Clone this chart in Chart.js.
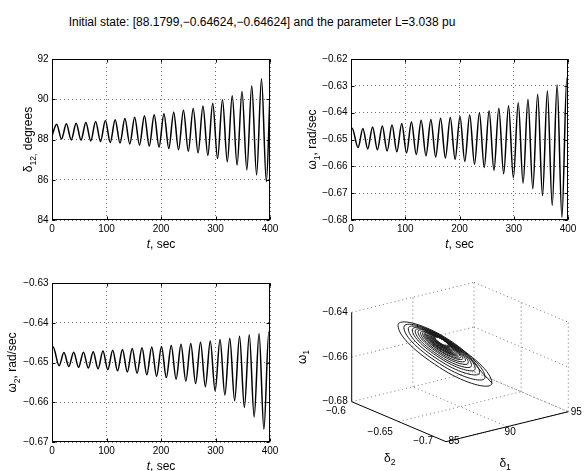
<!DOCTYPE html>
<html>
<head>
<meta charset="utf-8">
<script src="https://cdn.jsdelivr.net/npm/chart.js"></script>
<style>
  body { margin: 0; background: #fff; width: 588px; height: 471px; position: relative; overflow: hidden;
         font-family: "Liberation Sans", Arial, sans-serif; }
  #title { position: absolute; left: 0; top: 15px; width: 524px; text-align: center; font-size: 12px; line-height: 14px; color: #000; }
  .cell { position: absolute; }
  canvas { display: block; }
</style>
</head>
<body>
<div id="title">Initial state: [88.1799,−0.64624,−0.64624] and the parameter L=3.038 pu</div>
<div class="cell" style="left:0;top:45px"><canvas id="c1" width="290" height="215"></canvas></div>
<div class="cell" style="left:290px;top:45px"><canvas id="c2" width="298" height="215"></canvas></div>
<div class="cell" style="left:0;top:268px"><canvas id="c3" width="290" height="203"></canvas></div>
<div class="cell" style="left:290px;top:268px"><canvas id="c4" width="298" height="203"></canvas></div>
<script>
// ===== DATA =====
const timeTicks = [0, 100, 200, 300, 400];
const deltaTicks = [84, 86, 88, 90, 92];
const omega1Ticks = [-0.68, -0.67, -0.66, -0.65, -0.64, -0.63, -0.62];
const omega2Ticks = [-0.67, -0.66, -0.65, -0.64, -0.63];

// delta12: start, then alternating peaks / troughs, then end value
const tDelta = [0, 8.5, 17.5, 26.4, 35.3, 44.3, 53.2, 62.2, 71.1, 80.1, 89.0, 98.0, 106.9, 115.9, 124.8,
  133.8, 142.7, 151.7, 160.6, 169.6, 178.5, 187.5, 196.4, 205.4, 214.3, 223.3, 232.2, 241.2, 250.1,
  259.1, 268.0, 277.0, 285.9, 294.9, 303.8, 312.8, 321.7, 330.7, 339.6, 348.6, 357.5, 366.5, 375.4,
  384.4, 393.3, 400];
const delta12 = [88.18, 88.76, 88.02, 88.78, 87.98, 88.81, 87.97, 88.85, 87.93, 88.90, 87.90, 88.95,
  87.85, 88.98, 87.82, 89.04, 87.78, 89.10, 87.72, 89.18, 87.67, 89.23, 87.62, 89.28, 87.55, 89.36,
  87.49, 89.45, 87.42, 89.54, 87.33, 89.67, 87.21, 89.80, 87.05, 89.97, 86.89, 90.17, 86.73, 90.39,
  86.49, 90.67, 86.24, 91.02, 85.90, 90.30];

// omega1 / omega2: start, then alternating peaks / troughs, then end value
const tOmega = [0, 2, 13.0, 21.9, 30.8, 39.8, 48.7, 57.7, 66.6, 75.6, 84.5, 93.5, 102.4, 111.4, 120.3,
  129.3, 138.2, 147.2, 156.1, 165.1, 174.0, 183.0, 191.9, 200.9, 209.8, 218.8, 227.7, 236.7, 245.6,
  254.6, 263.5, 272.5, 281.4, 290.4, 299.3, 308.3, 317.2, 326.2, 335.1, 344.1, 353.0, 362.0, 370.9,
  379.9, 388.8, 397.8, 400];
const omega1 = [-0.6462, -0.6458, -0.6530, -0.6459, -0.6535, -0.6453, -0.6538, -0.6450, -0.6543,
  -0.6446, -0.6546, -0.6440, -0.6550, -0.6435, -0.6556, -0.6428, -0.6561, -0.6425, -0.6565, -0.6421,
  -0.6569, -0.6418, -0.6574, -0.6414, -0.6582, -0.6409, -0.6592, -0.6400, -0.6604, -0.6393, -0.6615,
  -0.6384, -0.6628, -0.6374, -0.6643, -0.6363, -0.6663, -0.6350, -0.6684, -0.6331, -0.6709, -0.6318,
  -0.6746, -0.6296, -0.6790, -0.6272, -0.6276];
const omega2 = [-0.6462, -0.6461, -0.6508, -0.6475, -0.6510, -0.6474, -0.6512, -0.6474, -0.6514,
  -0.6473, -0.6516, -0.6471, -0.6518, -0.6469, -0.6521, -0.6467, -0.6524, -0.6465, -0.6527, -0.6463,
  -0.6531, -0.6461, -0.6535, -0.6460, -0.6538, -0.6457, -0.6542, -0.6454, -0.6547, -0.6452, -0.6553,
  -0.6449, -0.6561, -0.6446, -0.6571, -0.6442, -0.6582, -0.6439, -0.6596, -0.6434, -0.6613, -0.6430,
  -0.6637, -0.6427, -0.6668, -0.6423, -0.6426];

// 3-D phase portrait: axis ticks and spiral (four points per loop)
const d1Ticks3 = [85, 90, 95];
const d2Ticks3 = [-0.7, -0.65, -0.6];
const w1Ticks3 = [-0.68, -0.66, -0.64];
const spD1 = [
  88.79, 88.50, 88.21, 88.50,  88.81, 88.50, 88.19, 88.50,  88.84, 88.51, 88.18, 88.51,
  88.87, 88.51, 88.15, 88.51,  88.91, 88.52, 88.13, 88.52,  88.95, 88.52, 88.09, 88.52,
  88.98, 88.53, 88.08, 88.53,  89.02, 88.53, 88.04, 88.53,  89.08, 88.54, 88.00, 88.54,
  89.14, 88.55, 87.96, 88.55,  89.18, 88.55, 87.92, 88.55,  89.24, 88.56, 87.88, 88.56,
  89.30, 88.57, 87.84, 88.57,  89.37, 88.58, 87.79, 88.58,  89.45, 88.59, 87.73, 88.59,
  89.57, 88.61, 87.65, 88.61,  89.69, 88.62, 87.55, 88.62,  89.84, 88.64, 87.44, 88.64,
  90.01, 88.67, 87.33, 88.67,  90.21, 88.69, 87.17, 88.69,  90.46, 88.73, 87.00, 88.73,
  90.77, 88.77, 86.77, 88.77,  90.80];
const spD2 = [
  -0.6535, -0.65, -0.6466, -0.65,  -0.6537, -0.65, -0.6463, -0.65,  -0.6539, -0.65, -0.6461, -0.65,
  -0.6543, -0.65, -0.6457, -0.65,  -0.6546, -0.65, -0.6454, -0.65,  -0.6551, -0.65, -0.6449, -0.65,
  -0.6554, -0.65, -0.6446, -0.65,  -0.6559, -0.65, -0.6442, -0.65,  -0.6564, -0.65, -0.6436, -0.65,
  -0.6570, -0.65, -0.6430, -0.65,  -0.6575, -0.65, -0.6425, -0.65,  -0.6580, -0.65, -0.6420, -0.65,
  -0.6587, -0.65, -0.6413, -0.65,  -0.6594, -0.65, -0.6406, -0.65,  -0.6603, -0.65, -0.6397, -0.65,
  -0.6614, -0.65, -0.6386, -0.65,  -0.6628, -0.65, -0.6372, -0.65,  -0.6643, -0.65, -0.6357, -0.65,
  -0.6660, -0.65, -0.6340, -0.65,  -0.6681, -0.65, -0.6319, -0.65,  -0.6706, -0.65, -0.6294, -0.65,
  -0.6738, -0.65, -0.6262, -0.65,  -0.6740];
const spW1 = [
  -0.6504, -0.6499, -0.6472, -0.6477,  -0.6507, -0.6501, -0.6471, -0.6477,  -0.6508, -0.6501, -0.6471, -0.6477,
  -0.6510, -0.6504, -0.6470, -0.6477,  -0.6513, -0.6506, -0.6469, -0.6476,  -0.6517, -0.6509, -0.6469, -0.6477,
  -0.6520, -0.6511, -0.6468, -0.6477,  -0.6523, -0.6514, -0.6467, -0.6477,  -0.6528, -0.6517, -0.6467, -0.6477,
  -0.6532, -0.6521, -0.6466, -0.6477,  -0.6536, -0.6524, -0.6465, -0.6476,  -0.6540, -0.6527, -0.6464, -0.6477,
  -0.6544, -0.6530, -0.6462, -0.6476,  -0.6551, -0.6536, -0.6461, -0.6476,  -0.6557, -0.6540, -0.6459, -0.6476,
  -0.6566, -0.6548, -0.6458, -0.6476,  -0.6576, -0.6555, -0.6454, -0.6475,  -0.6588, -0.6565, -0.6452, -0.6475,
  -0.6601, -0.6575, -0.6449, -0.6475,  -0.6617, -0.6588, -0.6445, -0.6474,  -0.6637, -0.6604, -0.6441, -0.6474,
  -0.6661, -0.6623, -0.6435, -0.6473,  -0.6663];

// ===== HELPERS =====
const FONT = '"Liberation Sans", Arial, sans-serif';
const GRID = '#6e6e6e';

function fmt(v, dec) {
  return (v < -1e-9 ? '\u2212' : '') + Math.abs(v).toFixed(dec);
}

// text with subscripts / italics, centred on (x, y)
function richText(ctx, parts, x, y, size, rotated) {
  ctx.save();
  ctx.translate(x, y);
  if (rotated) ctx.rotate(-Math.PI / 2);
  const fontOf = p => (p.it ? 'italic ' : '') + (p.sub ? size * 0.72 : size) + 'px ' + FONT;
  let w = 0;
  parts.forEach(p => { ctx.font = fontOf(p); w += ctx.measureText(p.t).width; });
  let cx = -w / 2;
  ctx.fillStyle = '#000';
  ctx.textAlign = 'left';
  ctx.textBaseline = 'alphabetic';
  parts.forEach(p => {
    ctx.font = fontOf(p);
    ctx.fillText(p.t, cx, size * 0.36 + (p.sub ? size * 0.28 : 0));
    cx += ctx.measureText(p.t).width;
  });
  ctx.restore();
}

// box, inward tick marks and axis titles, matlab style
function framePlugin(ylabel, ylabelX) {
  return {
    id: 'frame',
    afterDraw(chart) {
      const { ctx, chartArea: a, scales } = chart;
      const L = Math.round(a.left) + 0.5, R = Math.round(a.right) - 0.5;
      const T = Math.round(a.top) + 0.5, B = Math.round(a.bottom) - 0.5;
      ctx.save();
      ctx.strokeStyle = '#000';
      ctx.lineWidth = 1;
      ctx.beginPath();
      scales.x.ticks.forEach(t => {
        const px = Math.round(scales.x.getPixelForValue(t.value)) + 0.5;
        ctx.moveTo(px, B); ctx.lineTo(px, B - 3);
        ctx.moveTo(px, T); ctx.lineTo(px, T + 3);
      });
      scales.y.ticks.forEach(t => {
        const py = Math.round(scales.y.getPixelForValue(t.value)) + 0.5;
        ctx.moveTo(L, py); ctx.lineTo(L + 3, py);
        ctx.moveTo(R, py); ctx.lineTo(R - 3, py);
      });
      ctx.stroke();
      ctx.strokeRect(L, T, R - L, B - T);
      ctx.restore();
      richText(ctx, ylabel, ylabelX, (a.top + a.bottom) / 2, 12, true);
      richText(ctx, [{ t: 't', it: true }, { t: ', sec' }], (a.left + a.right) / 2, a.bottom + 24, 12, false);
    }
  };
}

function seriesChart(id, t, v, yTicks, dec, box, ylabel, ylabelX) {
  const points = t.map((x, i) => ({ x, y: v[i] }));
  return new Chart(document.getElementById(id), {
    type: 'line',
    data: {
      datasets: [{
        data: points,
        borderColor: '#000',
        borderWidth: 1.5,
        pointRadius: 0,
        fill: false,
        cubicInterpolationMode: 'monotone'
      }]
    },
    options: {
      responsive: false,
      animation: false,
      devicePixelRatio: 1,
      layout: { padding: { top: box.top, right: box.right, left: 0, bottom: 0 } },
      plugins: { legend: { display: false }, tooltip: { enabled: false } },
      scales: {
        x: {
          type: 'linear', min: 0, max: 400,
          afterBuildTicks: s => { s.ticks = timeTicks.map(value => ({ value })); },
          afterFit: s => { s.height = box.xh; },
          grid: { color: GRID, lineWidth: 1, drawTicks: false },
          border: { display: false, dash: [1, 3] },
          ticks: { font: { family: FONT, size: 10 }, color: '#000', padding: 3, maxRotation: 0 }
        },
        y: {
          type: 'linear', min: yTicks[0], max: yTicks[yTicks.length - 1],
          afterBuildTicks: s => { s.ticks = yTicks.map(value => ({ value })); },
          afterFit: s => { s.width = box.yw; },
          grid: { color: GRID, lineWidth: 1, drawTicks: false },
          border: { display: false, dash: [1, 3] },
          ticks: { font: { family: FONT, size: 10 }, color: '#000', padding: 3.5, callback: val => fmt(val, dec) }
        }
      }
    },
    plugins: [framePlugin(ylabel, ylabelX)]
  });
}

// ===== TIME SERIES =====
seriesChart('c1', tDelta, delta12, deltaTicks, 0,
  { top: 14, right: 20, yw: 52, xh: 40 },
  [{ t: '\u03b4' }, { t: '12,', sub: true }, { t: ' degrees' }], 28);
seriesChart('c2', tOmega, omega1, omega1Ticks, 2,
  { top: 14, right: 20, yw: 61, xh: 40 },
  [{ t: '\u03c9' }, { t: '1', sub: true }, { t: ', rad/sec' }], 22);
seriesChart('c3', tOmega, omega2, omega2Ticks, 2,
  { top: 15, right: 20, yw: 52, xh: 29 },
  [{ t: '\u03c9' }, { t: '2', sub: true }, { t: ', rad/sec' }], 12);

// ===== 3-D VIEW =====
// view of the box (page pixels): front-bottom corner and one edge vector per axis
const lim = { d1: [85, 95], d2: [-0.7, -0.6], w1: [-0.68, -0.64] };
const VIEW = { ox: 446, oy: 441.7, u: [122.3, -30], v: [-94.3, -40], w: [0, -89.4] };
function proj(d1, d2, w1) {
  const u = (d1 - lim.d1[0]) / (lim.d1[1] - lim.d1[0]);
  const v = (d2 - lim.d2[0]) / (lim.d2[1] - lim.d2[0]);
  const w = (w1 - lim.w1[0]) / (lim.w1[1] - lim.w1[0]);
  return { x: VIEW.ox + u * VIEW.u[0] + v * VIEW.v[0] + w * VIEW.w[0],
           y: VIEW.oy + u * VIEW.u[1] + v * VIEW.v[1] + w * VIEW.w[1] };
}

const seg = (a, b, dotted) => ({
  data: [proj(...a), proj(...b)],
  showLine: true, pointRadius: 0, borderWidth: 1,
  borderColor: dotted ? '#777' : '#000',
  borderDash: dotted ? [1, 3] : []
});

const [d1a, d1b] = lim.d1, [d2a, d2b] = lim.d2, [w1a, w1b] = lim.w1;
const lines3 = [];
// solid axes
lines3.push(seg([d1a, d2b, w1a], [d1a, d2b, w1b], false));
lines3.push(seg([d1a, d2b, w1a], [d1a, d2a, w1a], false));
lines3.push(seg([d1a, d2a, w1a], [d1b, d2a, w1a], false));
// dotted grid on back walls and floor
w1Ticks3.forEach(w => {
  lines3.push(seg([d1a, d2b, w], [d1b, d2b, w], true));
  lines3.push(seg([d1b, d2b, w], [d1b, d2a, w], true));
});
d1Ticks3.slice(1).forEach(d => {
  lines3.push(seg([d, d2b, w1a], [d, d2b, w1b], true));
  lines3.push(seg([d, d2a, w1a], [d, d2b, w1a], true));
});
d2Ticks3.slice(0, -1).forEach(d => {
  lines3.push(seg([d1b, d, w1a], [d1b, d, w1b], true));
  lines3.push(seg([d1a, d, w1a], [d1b, d, w1a], true));
});

const spiral = {
  data: spD1.map((d, i) => proj(d, spD2[i], spW1[i])),
  showLine: true, pointRadius: 0, borderWidth: 1, borderColor: '#1a1a1a', tension: 0.55, fill: false
};

const labels3 = {
  id: 'labels3',
  afterDraw(chart) {
    const { ctx, scales: { x, y } } = chart;
    const at = p => ({ x: x.getPixelForValue(p.x), y: y.getPixelForValue(p.y) });
    ctx.save();
    ctx.fillStyle = '#000';
    ctx.font = '10px ' + FONT;
    ctx.textBaseline = 'middle';
    ctx.textAlign = 'right';
    w1Ticks3.forEach(w => {
      const p = at(proj(d1a, d2b, w));
      ctx.fillText(fmt(w, 2), p.x - 4, p.y);
    });
    const d2Off = [[-13, 0], [-6, 11], [-6, 10]];
    d2Ticks3.forEach((d, i) => {
      const p = at(proj(d1a, d, w1a));
      ctx.fillText(fmt(d, d === -0.65 ? 2 : 1), p.x + d2Off[i][0], p.y + d2Off[i][1]);
    });
    ctx.textAlign = 'center';
    const d1Off = [[8, 0], [3, 6], [8, 1]];
    d1Ticks3.forEach((d, i) => {
      const p = at(proj(d, d2a, w1a));
      ctx.fillText(String(d), p.x + d1Off[i][0], p.y + d1Off[i][1]);
    });
    ctx.restore();
    const mW = at(proj(d1a, d2b, (w1a + w1b) / 2));
    richText(ctx, [{ t: '\u03c9' }, { t: '1', sub: true }], mW.x - 50, mW.y, 12, true);
    const mD2 = at(proj(d1a, (d2a + d2b) / 2, w1a));
    richText(ctx, [{ t: '\u03b4' }, { t: '2', sub: true }], mD2.x - 9, mD2.y + 36, 12, false);
    const mD1 = at(proj((d1a + d1b) / 2, d2a, w1a));
    richText(ctx, [{ t: '\u03b4' }, { t: '1', sub: true }], mD1.x - 2, mD1.y + 36, 12, false);
  }
};

new Chart(document.getElementById('c4'), {
  type: 'scatter',
  data: { datasets: [spiral, ...lines3] },
  options: {
    responsive: false,
    animation: false,
    devicePixelRatio: 1,
    layout: { padding: 0 },
    plugins: { legend: { display: false }, tooltip: { enabled: false } },
    scales: {
      x: { type: 'linear', display: false, min: 290, max: 588 },
      y: { type: 'linear', display: false, min: 268, max: 471, reverse: true }
    }
  },
  plugins: [labels3]
});
</script>
</body>
</html>
